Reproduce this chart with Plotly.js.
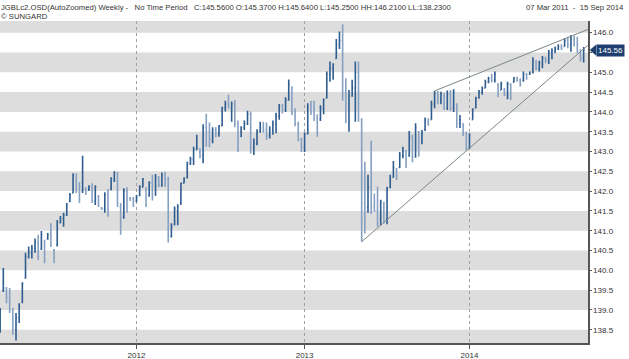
<!DOCTYPE html>
<html><head><meta charset="utf-8">
<script src="https://cdn.plot.ly/plotly-3.0.1.min.js"></script>
<style>html,body{margin:0;padding:0;background:#fff;} #chart{width:629px;height:359px;}</style>
</head><body><div id="chart"></div>
<script>
// Weekly bars, first week 07 Mar 2011
const firstWeek = [2011, 2, 7];
const highs = [139.05,140.06,139.58,139.55,139.05,138.92,139.17,139.70,140.44,140.60,
140.64,140.80,140.90,140.99,140.77,140.94,141.19,140.54,141.27,141.37,
141.45,141.70,141.95,142.45,142.45,142.23,142.89,142.10,142.15,142.20,
142.15,141.90,141.60,141.97,142.05,142.35,142.50,142.48,141.70,142.07,
142.10,141.85,141.85,141.90,142.15,142.33,142.10,142.25,142.41,142.43,
142.38,142.47,142.49,142.36,141.19,141.61,141.67,142.21,142.35,142.74,
142.87,143.12,143.42,143.08,143.69,143.95,143.73,143.61,143.61,143.66,
144.13,144.28,144.43,144.26,144.30,143.78,143.64,143.78,144.03,144.01,
143.33,143.56,143.75,143.75,143.73,143.64,143.78,143.98,144.20,144.20,
144.37,144.82,144.65,144.09,143.75,143.35,143.48,144.22,144.28,144.28,
143.94,144.17,144.34,145.02,145.27,145.23,145.84,146.03,146.21,144.85,
144.55,144.81,145.27,145.27,143.84,142.74,142.41,143.27,141.94,142.11,
141.78,141.73,142.11,142.41,142.76,142.58,142.99,143.12,143.04,143.52,
143.42,143.71,143.52,143.54,143.86,143.84,144.28,144.53,144.53,144.51,
144.48,144.54,144.55,144.57,144.22,143.92,143.71,143.50,143.46,144.09,
144.38,144.55,144.64,144.81,144.89,144.96,145.02,144.72,144.76,144.60,
144.76,144.72,144.88,144.89,144.85,145.02,144.99,145.02,145.38,145.31,
145.29,145.41,145.39,145.56,145.61,145.65,145.71,145.71,145.86,145.90,
145.94,145.92,145.90,145.58,145.64];
const lows = [138.42,139.45,139.17,138.92,138.37,138.23,138.67,139.17,139.80,140.30,
140.30,140.44,140.26,140.51,140.18,140.77,140.59,140.18,140.60,141.19,
141.10,141.37,141.72,141.95,141.95,141.70,141.95,141.90,142.00,141.70,
141.65,141.60,141.52,141.45,141.35,142.02,142.23,141.60,140.90,141.30,
141.45,141.75,141.60,141.72,141.87,142.10,141.60,141.86,141.76,141.88,
142.10,142.11,142.11,140.70,140.83,141.14,141.14,141.65,142.20,142.32,
142.66,142.66,143.04,142.83,142.70,143.12,143.11,143.21,143.36,143.37,
143.64,144.01,144.09,143.75,143.61,142.99,143.36,143.54,143.67,142.95,
142.91,143.16,143.47,143.47,143.29,143.33,143.42,143.46,143.80,143.96,
144.00,144.28,143.92,143.64,143.26,142.99,142.99,143.43,143.92,143.77,
143.37,143.77,143.94,144.34,144.76,144.81,145.34,145.59,144.28,143.71,
143.50,144.38,143.75,143.75,140.72,140.93,141.45,141.42,141.48,141.10,
141.14,141.19,141.16,142.07,142.34,142.28,142.58,142.83,142.58,142.87,
142.73,142.84,142.87,143.18,143.52,143.65,143.80,144.09,144.19,144.19,
144.05,144.05,144.03,144.00,143.59,143.59,143.39,143.04,143.06,143.80,
144.09,144.34,144.43,144.60,144.72,144.74,144.74,144.37,144.55,144.40,
144.32,144.30,144.74,144.76,144.64,144.76,144.81,144.93,144.97,145.06,
145.02,145.10,145.23,145.21,145.33,145.48,145.56,145.56,145.65,145.61,
145.52,145.65,145.48,145.27,145.25];
const opens = [138.6,139.5,139.5,139.3,139.0,138.5,138.8,139.2,139.8,140.35,
140.45,140.55,140.7,140.55,140.7,140.8,140.9,140.5,140.65,141.2,
141.3,141.4,141.75,141.95,142.35,142.05,142.0,142.05,142.05,142.1,
141.75,141.85,141.58,141.55,141.9,142.05,142.3,142.45,141.6,141.35,
142.0,141.8,141.8,141.75,141.9,142.1,142.05,141.9,142.2,141.9,
142.35,142.15,142.4,142.3,140.85,141.15,141.5,141.7,142.2,142.35,
142.7,142.8,143.05,143.0,142.9,143.6,143.5,143.3,143.55,143.45,
143.65,144.1,144.2,144.1,144.2,143.7,143.5,143.6,143.7,143.95,
143.1,143.2,143.5,143.6,143.55,143.4,143.55,143.7,143.9,144.1,
144.05,144.3,144.6,144.0,143.7,143.3,143.1,143.45,144.1,144.0,
143.85,143.8,144.1,144.35,144.95,145.1,145.35,145.7,145.8,144.4,
144.2,144.4,144.6,145.0,143.8,141.7,141.6,142.1,141.6,141.5,
141.3,141.6,141.3,142.1,142.35,142.55,142.6,142.9,143.0,142.9,
143.35,142.9,143.5,143.2,143.55,143.75,143.8,144.2,144.45,144.3,
144.4,144.1,144.45,144.1,144.2,143.7,143.7,143.45,143.1,143.8,
144.1,144.35,144.5,144.6,144.75,144.85,144.8,144.7,144.55,144.55,
144.45,144.7,144.75,144.85,144.8,144.8,144.95,144.95,145.0,145.25,
145.1,145.2,145.35,145.3,145.5,145.55,145.6,145.65,145.65,145.8,
145.7,145.85,145.7,145.5,145.37];
const closes = [139.0,139.55,139.3,139.0,138.5,138.8,139.1,139.65,140.35,140.45,
140.55,140.7,140.35,140.9,140.25,140.9,140.65,140.3,141.2,141.3,
141.4,141.65,141.9,142.4,142.05,141.8,142.05,142.0,142.1,141.75,
142.1,141.65,141.55,141.9,141.4,142.3,142.45,141.7,141.1,142.0,
141.8,141.8,141.75,141.85,142.1,142.3,141.65,142.2,141.85,142.35,
142.15,142.4,142.3,140.85,141.1,141.55,141.6,142.2,142.3,142.7,
142.8,143.05,143.1,142.9,143.6,143.5,143.3,143.55,143.45,143.65,
144.1,144.2,144.1,144.2,143.7,143.5,143.6,143.7,143.95,143.1,
143.2,143.5,143.6,143.55,143.4,143.55,143.7,143.9,144.15,144.05,
144.3,144.7,144.0,143.7,143.3,143.1,143.45,144.1,144.0,143.85,
143.5,144.1,144.3,144.95,145.1,145.2,145.7,145.8,144.4,144.2,
144.4,144.6,145.0,143.8,141.7,141.6,142.1,141.6,141.5,141.2,
141.7,141.3,142.05,142.3,142.6,142.4,142.9,143.0,142.7,143.35,
142.85,143.6,142.95,143.45,143.8,143.7,144.2,144.45,144.3,144.45,
144.1,144.45,144.1,144.5,143.7,143.8,143.45,143.1,143.4,144.05,
144.35,144.5,144.6,144.75,144.85,144.8,144.95,144.45,144.7,144.45,
144.7,144.35,144.85,144.8,144.7,144.95,144.85,145.0,145.3,145.1,
145.25,145.35,145.3,145.5,145.55,145.6,145.65,145.6,145.8,145.7,
145.85,145.7,145.5,145.35,145.56];

const yearTickDates = ['2012-01-02','2013-01-07','2014-01-06'];
const yearTickLabels = ['2012','2013','2014'];
const priceTicks = [138.5,139.0,139.5,140.0,140.5,141.0,141.5,142.0,142.5,143.0,143.5,144.0,144.5,145.0,145.5,146.0];
const upperTrendDates = ['2013-10-21','2014-09-24'];
const upperTrendValues = [144.53,146.08];
const lowerTrendDates = ['2013-05-13','2014-09-24'];
const lowerTrendValues = [140.72,145.68];
const lastClose = 145.56;
const headerText = 'JGBLc2.OSD(AutoZoomed) Weekly -&nbsp;&nbsp; No Time Period&nbsp;&nbsp; C:145.5600 O:145.3700 H:145.6400 L:145.2500 HH:146.2100 LL:138.2300';
const dateRangeText = '07 Mar 2011&nbsp; -&nbsp; 15 Sep 2014';
const sourceText = '© SUNGARD';

const dates = [];
for (let i = 0; i < highs.length; i++) {
  const d = new Date(Date.UTC(firstWeek[0], firstWeek[1], firstWeek[2]) + i * 7 * 86400000);
  dates.push(d.toISOString().slice(0, 10));
}

const W = 629, H = 359, mT = 21, mB = 16, mL = 0, mR = 41;
const plotH = H - mT - mB, plotW = W - mL - mR;
const py = p => (H - mB - p) / plotH;
const px = p => (p - mL) / plotW;

const shapes = [];
for (let n = 138; n <= 146; n++) {
  shapes.push({type:'rect', xref:'paper', yref:'y', x0:0, x1:1, y0:n, y1:n+0.5,
    fillcolor:'#dddddd', line:{width:0}, layer:'below'});
}
shapes.push({type:'path', xref:'paper', yref:'y',
  path:'M 1.003,' + lastClose + ' L 1.014,' + (lastClose+0.14) + ' L 1.014,' + (lastClose-0.14) + ' Z',
  fillcolor:'#1d3e6e', line:{width:0}, layer:'above'});

const traces = [
  {type:'ohlc', x:dates, open:opens, high:highs, low:lows, close:closes,
   increasing:{line:{color:'#2f5d90', width:1.6}},
   decreasing:{line:{color:'#86a0c2', width:1.6}},
   tickwidth:0.3, hoverinfo:'none', showlegend:false},
  {type:'scatter', mode:'lines', x:upperTrendDates, y:upperTrendValues,
   line:{color:'#7b8787', width:1}, hoverinfo:'none', showlegend:false, cliponaxis:true},
  {type:'scatter', mode:'lines', x:lowerTrendDates, y:lowerTrendValues,
   line:{color:'#7b8787', width:1}, hoverinfo:'none', showlegend:false, cliponaxis:true}
];

const font = 'Liberation Sans, Arial, sans-serif';
const layout = {
  width:W, height:H, margin:{l:mL, r:mR, t:mT, b:mB, pad:0},
  paper_bgcolor:'#ffffff', plot_bgcolor:'#ffffff',
  showlegend:false,
  font:{family:font, size:8, color:'#333333'},
  xaxis:{type:'date', range:['2011-03-06 16:00','2014-09-24 14:00'],
    tickmode:'array', tickvals:yearTickDates, ticktext:yearTickLabels,
    showgrid:true, gridcolor:'#a0a0a0', griddash:'dot', gridwidth:1,
    showline:true, linecolor:'#555555', linewidth:1.5,
    ticks:'outside', ticklen:4, tickcolor:'#555555', tickwidth:1,
    tickfont:{family:font, size:8, color:'#333333'},
    rangeslider:{visible:false}, zeroline:false, fixedrange:true},
  yaxis:{side:'right', range:[138.164, 146.295],
    tickmode:'array', tickvals:priceTicks,
    ticktext:priceTicks.map(v => Math.abs(v - lastClose) < 0.1 ? '' : v.toFixed(1)),
    showgrid:false, showline:true, linecolor:'#555555', linewidth:1.5,
    ticks:'outside', ticklen:2, tickcolor:'#555555',
    tickfont:{family:font, size:8, color:'#333333'},
    zeroline:false, fixedrange:true},
  shapes:shapes,
  annotations:[
    {xref:'paper', yref:'paper', x:px(0), y:py(7), xanchor:'left', yanchor:'middle',
     text:headerText, showarrow:false, font:{family:font, size:7.7, color:'#333333'}, borderpad:0},
    {xref:'paper', yref:'paper', x:px(0), y:py(17), xanchor:'left', yanchor:'middle',
     text:sourceText, showarrow:false, font:{family:font, size:7.7, color:'#333333'}, borderpad:0},
    {xref:'paper', yref:'paper', x:px(625), y:py(7), xanchor:'right', yanchor:'middle',
     text:dateRangeText, showarrow:false, font:{family:font, size:7.7, color:'#333333'}, borderpad:0},
    {xref:'paper', yref:'y', x:1.014, y:lastClose, xanchor:'left', yanchor:'middle',
     text:lastClose.toFixed(2), showarrow:false, bgcolor:'#1d3e6e',
     font:{family:font, size:8, color:'#ffffff'}, borderpad:1}
  ]
};

Plotly.newPlot('chart', traces, layout, {staticPlot:true, displayModeBar:false});
</script>
</body></html>
